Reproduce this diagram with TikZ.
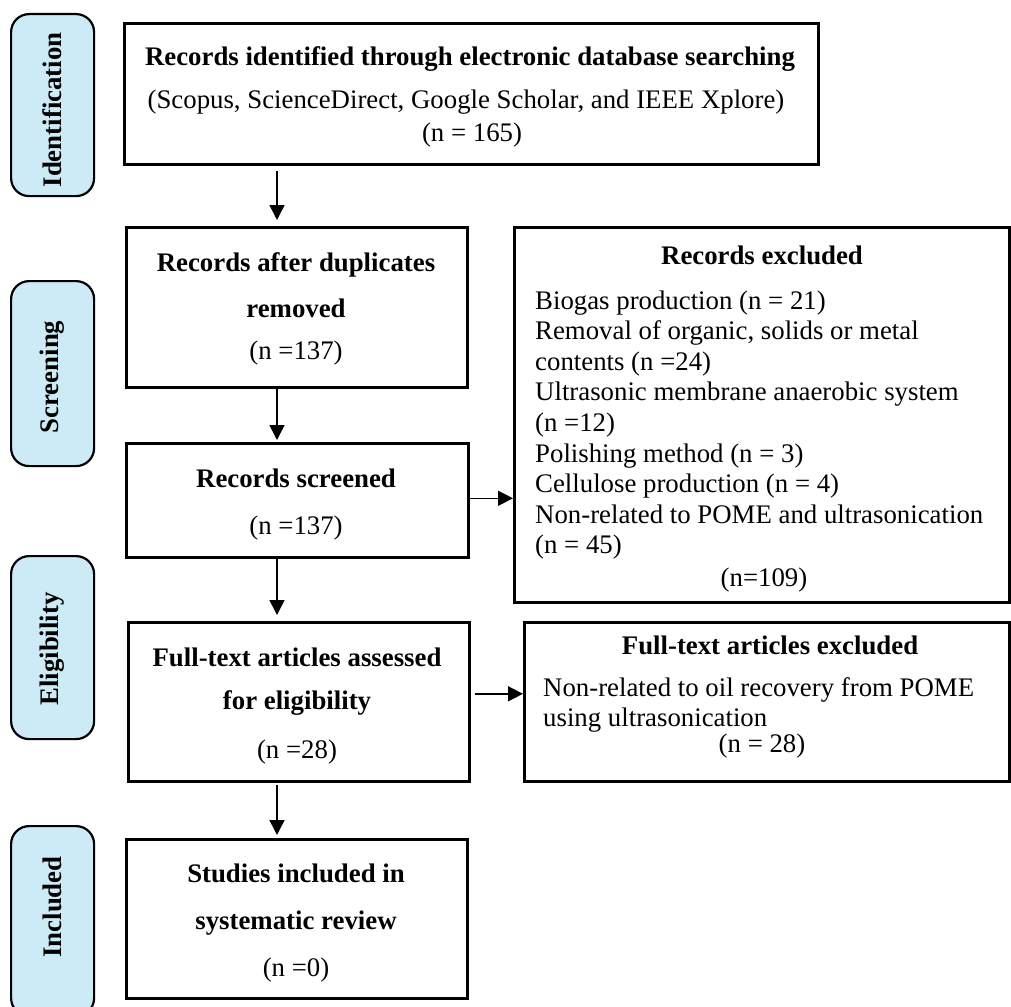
\documentclass[tikz,border=0pt]{standalone}
\usepackage{fontspec}
\setmainfont{Liberation Serif}
\usetikzlibrary{arrows.meta}
\definecolor{phasefill}{RGB}{205,235,247}
\begin{document}
\begin{tikzpicture}[x=1pt,y=-1pt,
  box/.style={draw, line width=2.6pt, inner sep=0pt, anchor=north west},
  phase/.style={draw, line width=2.2pt, fill=phasefill, rounded corners=18pt,
    inner sep=0pt, anchor=north west, minimum width=83pt},
  phasetext/.style={font=\fontsize{26.8}{31}\selectfont\bfseries, rotate=90, inner sep=0pt},
  hd/.style={font=\fontsize{26.8}{31}\selectfont\bfseries, inner sep=0pt, anchor=base},
  tx/.style={font=\fontsize{26.8}{31}\selectfont, inner sep=0pt, anchor=base},
  txl/.style={tx, anchor=base west},
  arr/.style={line width=1.5pt, -{Triangle[length=15pt,width=15pt]}}
]
\useasboundingbox (0,0) rectangle (1011,1006);
\begin{scope}
\clip (0,0) rectangle (1011,1006);

% phase labels on the left
\node[phase, minimum height=182pt] (pid) at (10,13) {};
\node[phase, minimum height=185pt] (psc) at (10,280) {};
\node[phase, minimum height=183pt] (pel) at (10,555) {};
\node[phase, minimum height=190pt] (pin) at (10,825) {};
\node[phasetext] (tid) at (52,110) {Identification};
\node[phasetext] (tsc) at (52,377) {Screening};
\node[phasetext] (tel) at (52,649) {Eligibility};
\node[phasetext] (tin) at (52,907) {Included};

% main column
\node[box, minimum width=694pt, minimum height=141pt] (b1) at (123,22) {};
\node[hd] (b1a) at (470,66) {Records identified through electronic database searching};
\node[tx] (b1b) at (466,109) {(Scopus, ScienceDirect, Google Scholar, and IEEE Xplore)};
\node[tx] (b1c) at (472,141) {(n = 165)};

\node[box, minimum width=341pt, minimum height=160pt] (b2) at (125,226) {};
\node[hd] (b2a) at (296,271) {Records after duplicates};
\node[hd] (b2b) at (296,317) {removed};
\node[tx] (b2c) at (296,359) {(n =137)};

\node[box, minimum width=342pt, minimum height=114pt] (b3) at (125,442) {};
\node[hd] (b3a) at (296,487) {Records screened};
\node[tx] (b3b) at (296,534) {(n =137)};

\node[box, minimum width=341pt, minimum height=159pt] (b4) at (127,621) {};
\node[hd] (b4a) at (297,666) {Full-text articles assessed};
\node[hd] (b4b) at (297,709) {for eligibility};
\node[tx] (b4c) at (297,758) {(n =28)};

\node[box, minimum width=341pt, minimum height=159pt] (b5) at (125,838) {};
\node[hd] (b5a) at (296,882) {Studies included in};
\node[hd] (b5b) at (296,929) {systematic review};
\node[tx] (b5c) at (296,976) {(n =0)};

% exclusion boxes
\node[box, minimum width=495pt, minimum height=375pt] (r1) at (513,226) {};
\node[hd] (r1h) at (762,264) {Records excluded};
\node[txl] (r1a) at (535,309) {Biogas production (n = 21)};
\node[txl] (r1b) at (535,339.6) {Removal of organic, solids or metal};
\node[txl] (r1c) at (535,370.2) {contents (n =24)};
\node[txl] (r1d) at (535,400.8) {Ultrasonic membrane anaerobic system};
\node[txl] (r1e) at (535,431.4) {(n =12)};
\node[txl] (r1f) at (535,462) {Polishing method (n = 3)};
\node[txl] (r1g) at (535,492.6) {Cellulose production (n = 4)};
\node[txl] (r1h2) at (535,523.2) {Non-related to POME and ultrasonication};
\node[txl] (r1i) at (535,553.8) {(n = 45)};
\node[tx] (r1n) at (764,586) {(n=109)};

\node[box, minimum width=485pt, minimum height=159pt] (r2) at (523,621) {};
\node[hd] (r2h) at (770,654) {Full-text articles excluded};
\node[txl] (r2a) at (543,696) {Non-related to oil recovery from POME};
\node[txl] (r2b) at (543,726) {using ultrasonication};
\node[tx] (r2n) at (762,752) {(n = 28)};

% connectors
\coordinate (ax) at (277,0);
\draw[arr] ([yshift=-5pt]b1.south -| ax) -- ([yshift=6pt]b2.north -| ax);
\draw[arr] (b2.south -| ax) -- ([yshift=2pt]b3.north -| ax);
\draw[arr] (b3.south -| ax) -- ([yshift=6pt]b4.north -| ax);
\draw[arr] ([yshift=-2pt]b4.south -| ax) -- ([yshift=3pt]b5.north -| ax);
\draw[arr] ([yshift=2pt]b3.east) -- ([yshift=2pt]b3.east -| r1.west);
\draw[arr] ([xshift=4pt,yshift=8pt]b4.east) -- ([yshift=8pt]b4.east -| r2.west);
\end{scope}
\end{tikzpicture}
\end{document}
